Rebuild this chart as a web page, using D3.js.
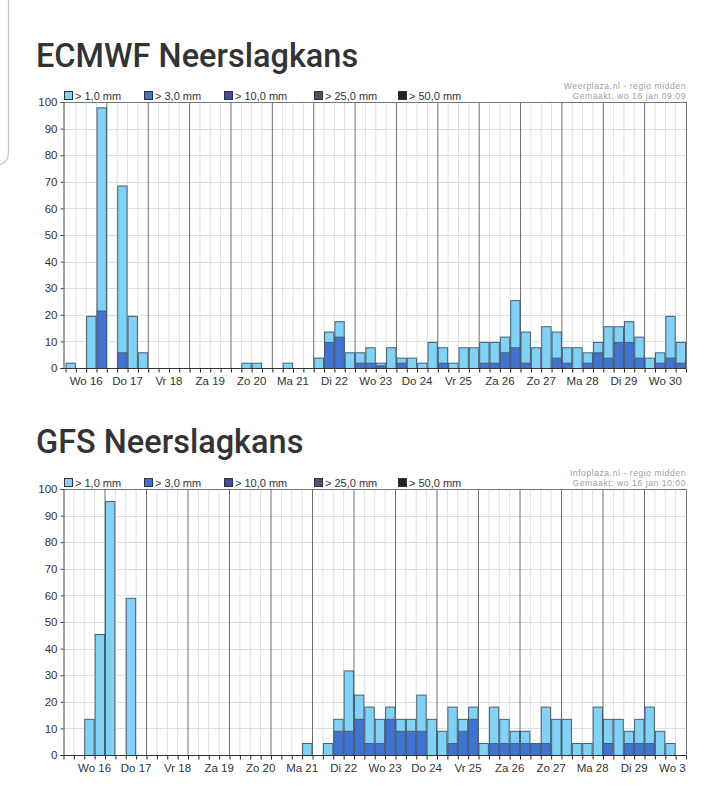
<!DOCTYPE html>
<html>
<head>
<meta charset="utf-8">
<script src="https://cdn.jsdelivr.net/npm/d3@7"></script>
<style>
  body { margin: 0; background: #fff; }
  svg { display: block; }
</style>
</head>
<body>
<svg id="page" width="720" height="789"></svg>
<script>
// day labels along the x axis, each day has four 6-hour slots
var days = ["Wo 16", "Do 17", "Vr 18", "Za 19", "Zo 20", "Ma 21", "Di 22", "Wo 23",
            "Do 24", "Vr 25", "Za 26", "Zo 27", "Ma 28", "Di 29", "Wo 30"];
var legendLabels = ["> 1,0 mm", "> 3,0 mm", "> 10,0 mm", "> 25,0 mm", "> 50,0 mm"];
var yTicks = [0, 10, 20, 30, 40, 50, 60, 70, 80, 90, 100];

// ECMWF, chance (%) per 6-hour slot
var ecmwfOver1 = [
  2, 0, 19.6, 98,      0, 68.6, 19.6, 5.9,   0, 0, 0, 0,          0, 0, 0, 0,
  0, 2, 2, 0,          0, 2, 0, 0,           3.9, 13.7, 17.6, 5.9, 5.9, 7.8, 2, 7.8,
  3.9, 3.9, 2, 9.8,    7.8, 2, 7.8, 7.8,     9.8, 9.8, 11.8, 25.5, 13.7, 7.8, 15.7, 13.7,
  7.8, 7.8, 5.9, 9.8,  15.7, 15.7, 17.6, 11.8, 3.9, 5.9, 19.6, 9.8];
var ecmwfOver3 = [
  0, 0, 0, 21.6,       0, 5.9, 0, 0,         0, 0, 0, 0,          0, 0, 0, 0,
  0, 0, 0, 0,          0, 0, 0, 0,           0, 9.8, 11.8, 0,     2, 2, 1, 0,
  2, 0, 0, 0,          2, 0, 0, 0,           2, 2, 5.9, 7.8,      2, 0, 0, 3.9,
  2, 0, 2, 5.9,        3.9, 9.8, 9.8, 3.9,   0, 2, 3.9, 2];

// GFS, chance (%) per 6-hour slot
var gfsOver1 = [
  0, 0, 13.6, 45.5,    95.5, 0, 59.1, 0,     0, 0, 0, 0,          0, 0, 0, 0,
  0, 0, 0, 0,          0, 0, 0, 4.5,         0, 4.5, 13.6, 31.8,  22.7, 18.2, 13.6, 18.2,
  13.6, 13.6, 22.7, 13.6, 9.1, 18.2, 13.6, 18.2, 4.5, 18.2, 13.6, 9.1, 9.1, 4.5, 18.2, 13.6,
  13.6, 4.5, 4.5, 18.2, 13.6, 13.6, 9.1, 13.6, 18.2, 9.1, 4.5, 0];
var gfsOver3 = [
  0, 0, 0, 0,          0, 0, 0, 0,           0, 0, 0, 0,          0, 0, 0, 0,
  0, 0, 0, 0,          0, 0, 0, 0,           0, 0, 9.1, 9.1,      13.6, 4.5, 4.5, 13.6,
  9.1, 9.1, 9.1, 0,    0, 4.5, 9.1, 13.6,    0, 4.5, 4.5, 4.5,    4.5, 4.5, 4.5, 0,
  0, 0, 0, 0,          4.5, 0, 4.5, 4.5,     4.5, 0, 0, 0];

var colors = ["#80d3f7", "#3f72d2", "#3e4aa3", "#4b5270", "#222222"];
var barStroke = "#4a5e6e";
var chartFont = "Liberation Sans, Arial, sans-serif";

var svg = d3.select("#page");

// the grey panel edge at the top left of the screenshot
svg.append("path")
    .attr("d", "M8.5,0 L8.5,152 Q8.5,162 0,165")
    .attr("fill", "none")
    .attr("stroke", "#c8c8c8")
    .attr("stroke-width", 1.2);

drawChart({
  title: "ECMWF Neerslagkans", titleY: 67,
  top: 102, bottom: 368, x0: 65.5, x1: 686,
  labelSlot: 2,
  source: "Weerplaza.nl - regio midden", made: "Gemaakt: wo 16 jan 09:09",
  over1: ecmwfOver1, over3: ecmwfOver3, id: "ec"
});

drawChart({
  title: "GFS Neerslagkans", titleY: 453,
  top: 489, bottom: 755, x0: 63.5, x1: 686,
  labelSlot: 3,
  source: "Infoplaza.nl - regio midden", made: "Gemaakt: wo 16 jan 10:00",
  over1: gfsOver1, over3: gfsOver3, id: "gfs"
});

function drawChart(c) {
  var axisX = 63.5;
  var nSlots = days.length * 4;

  var x = d3.scaleLinear().domain([0, nSlots]).range([c.x0, c.x1]);
  var y = d3.scaleLinear().domain([0, 100]).range([c.bottom, c.top]);
  var w = x(1) - x(0);

  svg.append("text")
      .attr("x", 36).attr("y", c.titleY)
      .attr("font-family", "Roboto, sans-serif")
      .attr("font-weight", 500)
      .attr("font-size", 32.5)
      .attr("fill", "#333")
      .text(c.title);

  var g = svg.append("g");

  // light grid
  g.selectAll(".hgrid")
      .data(yTicks.slice(1, -1))
      .enter().append("line")
      .attr("x1", axisX).attr("x2", c.x1)
      .attr("y1", function(d) { return Math.round(y(d)) + 0.5; })
      .attr("y2", function(d) { return Math.round(y(d)) + 0.5; })
      .attr("stroke", "#dedede");

  g.selectAll(".vgrid")
      .data(d3.range(1, nSlots).filter(function(i) { return i % 4 != 0; }))
      .enter().append("line")
      .attr("x1", function(i) { return x(i); })
      .attr("x2", function(i) { return x(i); })
      .attr("y1", c.top).attr("y2", c.bottom)
      .attr("stroke", "#dedede");

  // day separators
  g.selectAll(".dayline")
      .data(d3.range(1, days.length))
      .enter().append("line")
      .attr("x1", function(i) { return x(i * 4); })
      .attr("x2", function(i) { return x(i * 4); })
      .attr("y1", c.top).attr("y2", c.bottom)
      .attr("stroke", "#6e6e6e");

  // > 1,0 mm and > 3,0 mm bars, drawn over each other from the base line
  [c.over1, c.over3].forEach(function(series, k) {
    g.append("g").selectAll("rect")
        .data(series.map(function(v, i) { return {i: i, v: v}; })
                    .filter(function(d) { return d.v > 0; }))
        .enter().append("rect")
        .attr("x", function(d) { return x(d.i) + 0.5; })
        .attr("width", w - 1)
        .attr("y", function(d) { return y(d.v) + 0.5; })
        .attr("height", function(d) { return y(0) - y(d.v); })
        .attr("fill", colors[k])
        .attr("stroke", barStroke);
  });

  // frame
  g.append("line")
      .attr("x1", axisX).attr("x2", c.x1 + 0.5)
      .attr("y1", c.top + 0.5).attr("y2", c.top + 0.5)
      .attr("stroke", "#777");
  g.append("line")
      .attr("x1", c.x1 + 0.5).attr("x2", c.x1 + 0.5)
      .attr("y1", c.top).attr("y2", c.bottom)
      .attr("stroke", "#777");

  // y axis
  var ya = svg.append("g")
      .attr("transform", "translate(" + axisX + ",0)")
      .call(d3.axisLeft(y).tickValues(yTicks).tickSize(3).tickPadding(3));
  ya.select(".domain").attr("stroke", "#444");
  ya.selectAll(".tick line").attr("stroke", "#444");
  ya.selectAll("text")
      .attr("font-family", chartFont)
      .attr("font-size", 11.5)
      .attr("fill", "#333");

  // x axis with a tick at every slot
  var xa = svg.append("g")
      .attr("transform", "translate(0," + (c.bottom + 0.5) + ")")
      .call(d3.axisBottom(x).tickValues(d3.range(0, nSlots + 1)).tickSize(4).tickFormat(""));
  xa.select(".domain").remove();
  xa.selectAll(".tick line").attr("stroke", "#222");
  xa.append("line")
      .attr("x1", axisX - 3).attr("x2", c.x1 + 0.5)
      .attr("stroke", "#333").attr("stroke-width", 1.2);

  // day labels, clipped at the right edge of the plot
  svg.append("clipPath").attr("id", "clip-" + c.id)
    .append("rect")
      .attr("x", 0).attr("y", c.bottom)
      .attr("width", c.x1).attr("height", 30);

  svg.append("g")
      .attr("clip-path", "url(#clip-" + c.id + ")")
    .selectAll("text")
      .data(days)
      .enter().append("text")
      .attr("x", function(d, i) { return x(i * 4 + c.labelSlot); })
      .attr("y", c.bottom + 17)
      .attr("text-anchor", "middle")
      .attr("font-family", chartFont)
      .attr("font-size", 11.5)
      .attr("fill", "#333")
      .text(function(d) { return d; });

  // legend
  var legendX = [64, 144, 224, 314, 398];
  var lg = svg.append("g")
      .attr("transform", "translate(0," + (c.top - 11) + ")");
  lg.selectAll("rect")
      .data(legendLabels)
      .enter().append("rect")
      .attr("x", function(d, i) { return legendX[i] + 0.5; })
      .attr("y", 0.5)
      .attr("width", 8).attr("height", 8)
      .attr("fill", function(d, i) { return colors[i]; })
      .attr("stroke", "#333");
  lg.selectAll("text")
      .data(legendLabels)
      .enter().append("text")
      .attr("x", function(d, i) { return legendX[i] + 11; })
      .attr("y", 8.5)
      .attr("font-family", chartFont)
      .attr("font-size", 11)
      .attr("fill", "#333")
      .text(function(d) { return d; });

  // source lines top right
  svg.selectAll(".src-" + c.id)
      .data([c.source, c.made])
      .enter().append("text")
      .attr("x", c.x1)
      .attr("y", function(d, i) { return c.top - 13 + i * 9.8; })
      .attr("text-anchor", "end")
      .attr("font-family", chartFont)
      .attr("font-size", 8.6)
      .attr("letter-spacing", 0.55)
      .attr("fill", "#a0a0a0")
      .text(function(d) { return d; });
}
</script>
</body>
</html>
